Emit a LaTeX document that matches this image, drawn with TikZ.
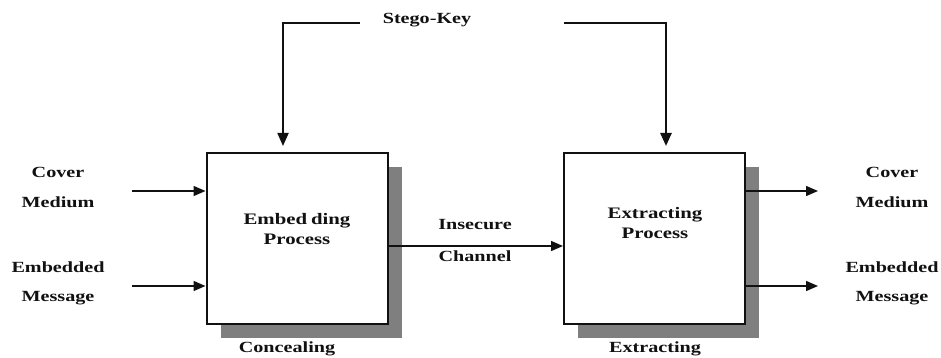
\documentclass[tikz,border=0pt]{standalone}
\usepackage{fontspec}
\setmainfont{Liberation Serif}
\usetikzlibrary{arrows.meta,shadows}
\definecolor{shadowgray}{HTML}{7F7F7F}
\definecolor{ink}{HTML}{111111}
\newcommand{\wide}[1]{\scalebox{1.3}[1]{#1}}
\tikzset{
  lbl/.style={font=\fontsize{15.5}{15.5}\selectfont\bfseries, text=ink, inner sep=0pt, align=center},
  boxtxt/.style={font=\fontsize{16}{19.5}\selectfont\bfseries, text=ink, inner sep=0pt, align=center},
  procbox/.style={draw=ink, line width=2pt, fill=white, minimum width=181pt, minimum height=170pt, inner sep=0pt,
    drop shadow={shadow xshift=14pt, shadow yshift=-14pt, opacity=1, fill=shadowgray}},
  arr/.style={draw=ink, line width=1.5pt, -{Triangle[length=12pt,width=10pt]}},
  keyline/.style={draw=ink, line width=1.8pt, -{Triangle[length=13pt,width=11pt]}}
}
\begin{document}
\begin{tikzpicture}[x=1pt,y=-1pt]
\useasboundingbox (0,0) rectangle (941,358);
\clip (0,0) rectangle (941,358);
\fill[white] (0,0) rectangle (941,358);
% boxes
\node[procbox] (b1) at (297,238.5) {};
\node[procbox] (b2) at (654.5,238.5) {};
% box texts
\node[boxtxt] (t1) at (297,229) {\wide{Embed\hspace{3pt}ding}\\\wide{Process}};
\node[boxtxt] (t2) at (655,223) {\wide{Extracting}\\\wide{Process}};
\node[lbl, anchor=north] (c1) at (287,342) {\wide{Concealing}};
\node[lbl, anchor=north] (c2) at (655,342) {\wide{Extracting}};
% stego key
\node[lbl] (key) at (427,20) {\wide{Stego-Key}};
\coordinate (kl) at (360,23);
\coordinate (kr) at (564,23);
\coordinate (ka) at (283,146);
\coordinate (kb) at (666,146);
\draw[keyline] (kl) -| (ka);
\draw[keyline, line width=2.4pt] (kr) -| (kb);
% inputs
\node[lbl] (cov1) at (58,172) {\wide{Cover}};
\node[lbl] (med1) at (58,202) {\wide{Medium}};
\node[lbl] (emb1) at (58,267) {\wide{Embedded}};
\node[lbl] (msg1) at (58,298) {\wide{Message}};
\coordinate (i1) at (132,191);
\coordinate (i2) at (132,286);
\draw[arr] (i1) -- (b1.west |- i1);
\draw[arr] (i2) -- (b1.west |- i2);
% channel
\coordinate (ch) at (0,246);
\draw[arr] (b1.east |- ch) -- (b2.west |- ch);
\node[lbl] (ins) at (475,225) {\wide{Insecure}};
\node[lbl] (chn) at (475,256) {\wide{Channel}};
% outputs
\coordinate (o1) at (818,191);
\coordinate (o2) at (818,286);
\draw[arr] (b2.east |- o1) -- (o1);
\draw[arr] (b2.east |- o2) -- (o2);
\node[lbl] (cov2) at (892,172) {\wide{Cover}};
\node[lbl] (med2) at (892,202) {\wide{Medium}};
\node[lbl] (emb2) at (892,267) {\wide{Embedded}};
\node[lbl] (msg2) at (892,298) {\wide{Message}};
\end{tikzpicture}
\end{document}
